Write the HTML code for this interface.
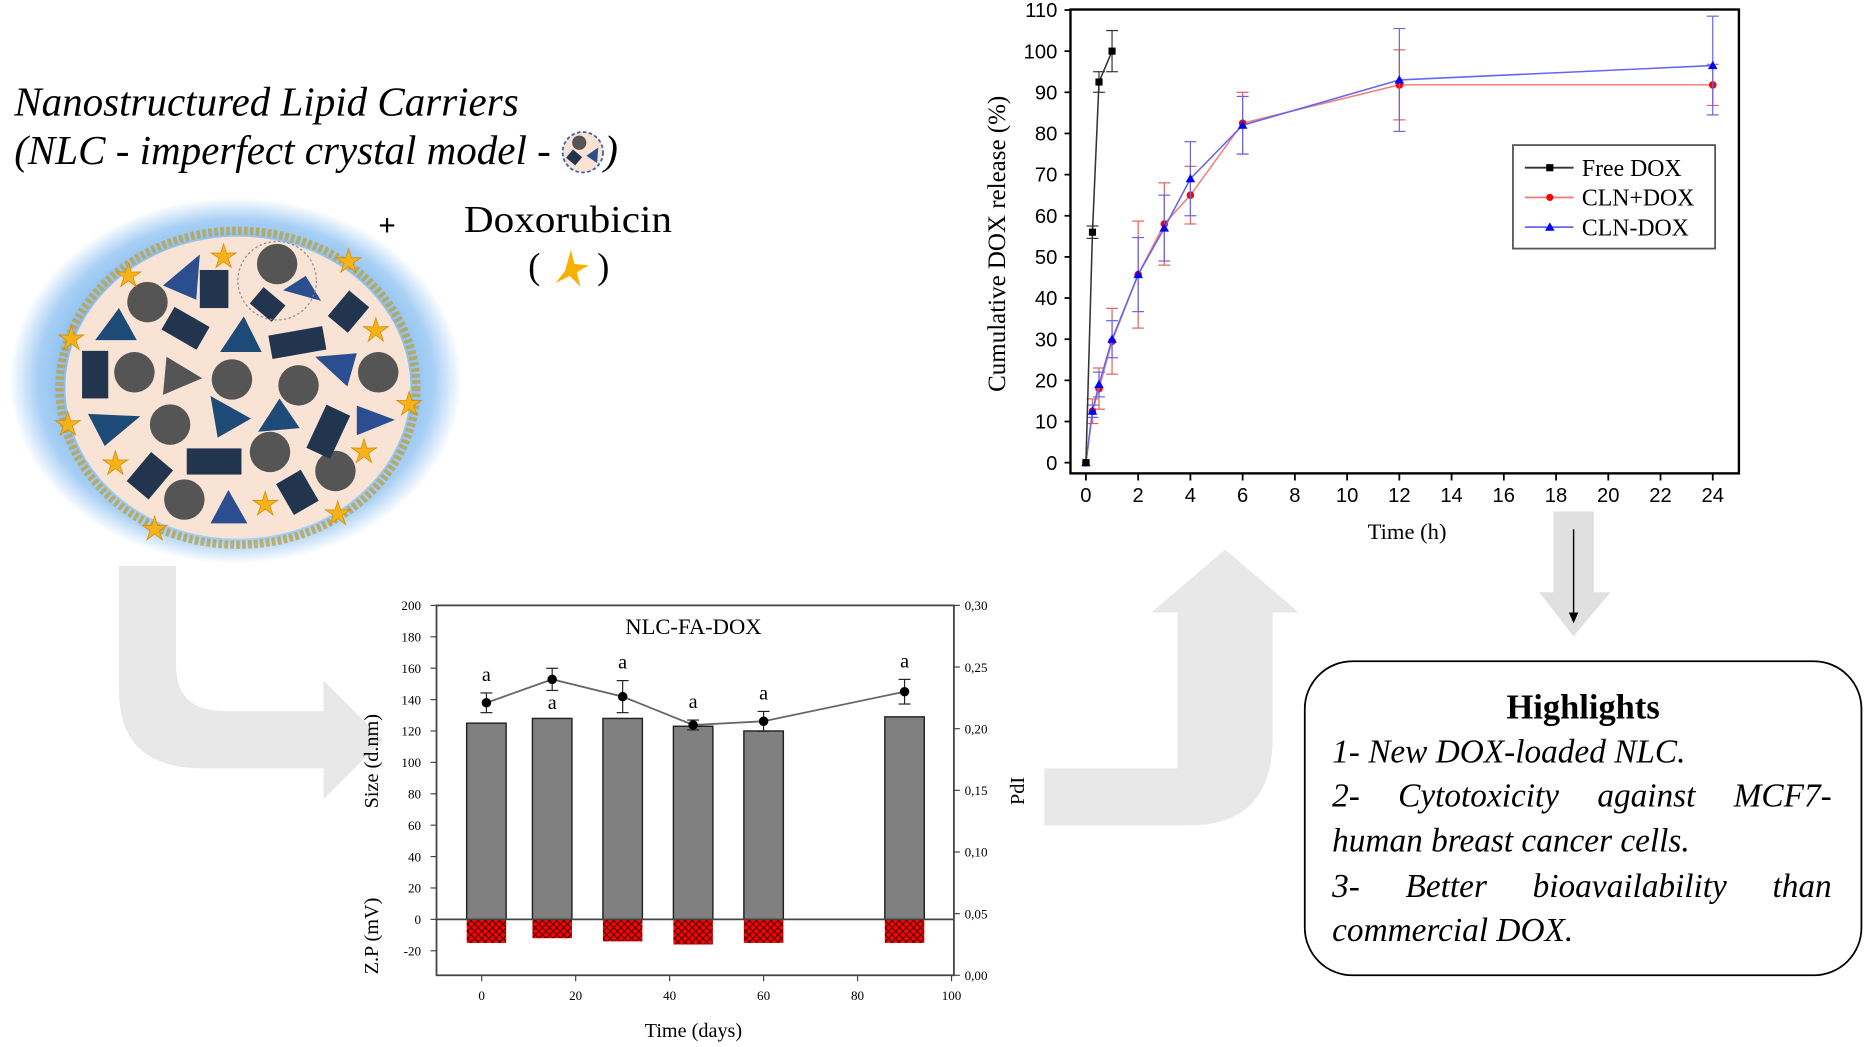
<!DOCTYPE html>
<html><head><meta charset="utf-8"><style>
html,body{margin:0;padding:0;background:#fff;}
svg{display:block;font-family:"Liberation Serif",serif;}
</style></head><body>
<svg width="1865" height="1047" viewBox="0 0 1568 880.3" preserveAspectRatio="none" xmlns="http://www.w3.org/2000/svg">
<defs>
<radialGradient id="glow" cx="50%" cy="50%" r="50%">
<stop offset="0.7" stop-color="#7fb7ee"/><stop offset="0.88" stop-color="#a9d0f5"/><stop offset="1" stop-color="#ffffff"/>
</radialGradient>
<pattern id="hatch" width="6" height="6" patternUnits="userSpaceOnUse">
<rect width="6" height="6" fill="#ff0000"/><path d="M0,0L6,6M6,0L0,6" stroke="#300" stroke-width="0.8"/>
</pattern>
</defs>

<path d="M100,476 H148 V560 Q148,598 190,598 H272 V572 L322,622 L272,672 V646 H170 Q100,646 100,580 Z" fill="#e8e8e8"/>
<path d="M878,646 H990 V515 H968 L1030,462 L1092,515 H1070 V620 Q1070,694 1000,694 H878 Z" fill="#e8e8e8"/>
<path d="M1306,430 H1340 V498 H1354 L1323,535 L1294,498 H1306 Z" fill="#e0e0e0"/>
<line x1="1323" y1="445" x2="1323" y2="520" stroke="#000" stroke-width="1.2"/>
<path d="M1319,515 L1323,524 L1327,515" fill="#000"/>

<text x="12" y="97" font-size="34.5" font-style="italic">Nanostructured Lipid Carriers</text>
<text x="12" y="138" font-size="34.5" font-style="italic">(NLC - imperfect crystal model -</text>
<g>
<circle cx="490" cy="128" r="17" fill="#f9e2d2" stroke="#3a62b0" stroke-width="1.5" stroke-dasharray="3,2"/>
<circle cx="487" cy="120" r="6" fill="#555"/><rect x="478" y="128" width="10" height="9" fill="#203350" transform="rotate(40 483 132)"/><path d="M493,131 L503,124 L502,137Z" fill="#2a4e8f"/>
</g>
<text x="508" y="138" font-size="34.5" font-style="italic">)</text>
<text x="318" y="198" font-size="26" font-weight="bold">+</text>
<text x="390" y="195" font-size="32" textLength="175" lengthAdjust="spacingAndGlyphs">Doxorubicin</text>
<text x="444" y="234" font-size="31">(</text><text x="502" y="234" font-size="31">)</text>
<path d="M480,210 L483,222 L495,223 L485,229 L488,241 L479,232 L467,238 L475,228 Z" fill="#f7b000"/>

<g>
<ellipse cx="198" cy="320" rx="190" ry="154" fill="url(#glow)"/>
<ellipse cx="200" cy="326" rx="150" ry="132" fill="none" stroke="#b8a24a" stroke-width="7" stroke-dasharray="3,2" opacity="0.8"/>
<ellipse cx="200" cy="326" rx="145" ry="127" fill="#f8e3d4"/>
<g id="shapes"></g>
</g>

<g id="topchart"></g>
<g id="botchart"></g>

<g>
<rect x="1097" y="556" width="468" height="264" rx="40" fill="#fff" stroke="#000" stroke-width="1.5"/>
<text x="1331" y="604" font-size="29" font-weight="bold" text-anchor="middle">Highlights</text>
<g font-size="28" font-style="italic">
<text x="1120" y="641">1- New DOX-loaded NLC.</text>
<text class="just" x="1120" y="678">2- Cytotoxicity against MCF7-</text>
<text x="1120" y="716">human breast cancer cells.</text>
<text class="just" x="1120" y="754">3- Better bioavailability than</text>
<text x="1120" y="791">commercial DOX.</text>
</g>
</g>
</svg>
<script>
const NS='http://www.w3.org/2000/svg';
function mk(tag,attrs,parent){const e=document.createElementNS(NS,tag);for(const k in attrs)e.setAttribute(k,attrs[k]);parent.appendChild(e);return e;}

document.querySelectorAll('text.just').forEach(t=>{const len=t.getComputedTextLength();const n=t.textContent.split(' ').length-1;t.setAttribute('word-spacing',((1540-1120-len)/n).toFixed(2));});

(function(){
const g=document.getElementById('shapes');
const circles=[[124,254],[233,222],[113,313],[195,319],[251,324],[143,357],[227,380],[282,396],[155,420],[318,313]];
circles.forEach(c=>mk('circle',{cx:c[0],cy:c[1],r:17,fill:'#555'},g));
const rects=[[180,243,24,32,0],[225,256,24,18,40],[293,262,22,28,40],[156,276,34,22,30],[250,288,46,20,-10],[80,315,22,40,0],[180,388,46,22,0],[126,400,24,32,40],[276,363,22,40,25],[250,414,24,30,-30]];
rects.forEach(r=>mk('rect',{x:r[0]-r[2]/2,y:r[1]-r[3]/2,width:r[2],height:r[3],fill:'#22354f',transform:`rotate(${r[4]} ${r[0]} ${r[1]})`},g));
const tris=[['M137,240 L168,214 L165,252Z','#2a4e8f'],['M257,232 L270,253 L238,244Z','#2a4e8f'],['M80,286 L100,259 L115,286Z','#1e4a78'],['M185,296 L205,266 L220,296Z','#1e4a78'],['M137,332 L140,300 L170,318Z','#555'],['M265,300 L300,297 L292,325Z','#2a4e8f'],['M74,348 L118,350 L88,375Z','#1e4a78'],['M177,333 L211,352 L183,368Z','#1e4a78'],['M217,363 L235,335 L252,360Z','#1e4a78'],['M300,341 L332,353 L300,366Z','#2a4e8f'],['M177,440 L192,412 L208,440Z','#2a4e8f']];
tris.forEach(t=>mk('path',{d:t[0],fill:t[1]},g));
mk('circle',{cx:233,cy:236,r:33,fill:'none',stroke:'#8a8a9a','stroke-dasharray':'2,2'},g);
const stars=[[108,232],[188,216],[293,220],[60,285],[316,278],[57,357],[97,390],[306,380],[344,340],[223,424],[284,432],[130,445]];
stars.forEach(s=>{const[x,y]=s;let d='';for(let i=0;i<10;i++){const r=i%2?4:11;const a=-Math.PI/2+i*Math.PI/5;d+=(i?'L':'M')+(x+r*Math.cos(a)).toFixed(1)+','+(y+r*Math.sin(a)).toFixed(1);}mk('path',{d:d+'Z',fill:'#f7b21a',stroke:'#d08a00','stroke-width':0.6},g);});
})();

const releaseTimes=[0,0.25,0.5,1,2,3,4,6,12,24];
const freeTimes=[0,0.25,0.5,1];
const freeDox=[0,56,92.5,100];
const freeDoxErr=[0,1.5,2.5,5];
const clnPlusDox=[0,12.5,18,29.5,45.7,58,65,82.5,91.8,91.8];
const clnPlusDoxErr=[0,3,5,8,13,10,7,7.5,8.5,5];
const clnDox=[0,12.5,19,30,45.7,57,69,82,93,96.5];
const clnDoxErr=[0,1.5,3,4.5,9,8,9,7,12.5,12];
const xTicksTop=[0,2,4,6,8,10,12,14,16,18,20,22,24];
const yTicksTop=[0,10,20,30,40,50,60,70,80,90,100,110];

(function(){
const g=document.getElementById('topchart');
const X=t=>913+t*(1440-913)/24, Y=v=>389-v*(389-8.4)/110;
mk('rect',{x:900,y:8,width:562,height:390,fill:'#fff',stroke:'#000','stroke-width':2},g);
yTicksTop.forEach(v=>{mk('line',{x1:895,x2:900,y1:Y(v),y2:Y(v),stroke:'#000','stroke-width':1.5},g);
const t=mk('text',{x:889,y:Y(v)+6,'font-size':17,'text-anchor':'end','font-family':'Liberation Sans, sans-serif'},g);t.textContent=v;});
xTicksTop.forEach(v=>{mk('line',{x1:X(v),x2:X(v),y1:398,y2:404,stroke:'#000','stroke-width':1.5},g);
const t=mk('text',{x:X(v),y:422,'font-size':17,'text-anchor':'middle','font-family':'Liberation Sans, sans-serif'},g);t.textContent=v;});
const xt=mk('text',{x:1183,y:453,'font-size':19,'text-anchor':'middle'},g);xt.textContent='Time (h)';

const yt=mk('text',{x:0,y:0,'font-size':21,'text-anchor':'middle',transform:'translate(845,205) rotate(-90)'},g);yt.textContent='Cumulative  DOX release (%)';

function series(xs,vals,errs,color,ecolor,marker,name){
const sg=mk('g',{},g);
vals.forEach((v,i)=>{const x=X(xs[i]);if(errs[i]>0){mk('line',{x1:x,x2:x,y1:Y(v-errs[i]),y2:Y(v+errs[i]),stroke:ecolor,'stroke-width':1},sg);
[v-errs[i],v+errs[i]].forEach(e=>mk('line',{x1:x-5,x2:x+5,y1:Y(e),y2:Y(e),stroke:ecolor,'stroke-width':1},sg));}});
mk('polyline',{points:vals.map((v,i)=>X(xs[i])+','+Y(v)).join(' '),fill:'none',stroke:color,'stroke-width':1.3},sg);
vals.forEach((v,i)=>{const x=X(xs[i]),y=Y(v);let m;
if(marker==='s')m=mk('rect',{x:x-3,y:y-3,width:6,height:6,fill:'#000'},sg);
else if(marker==='c')m=mk('circle',{cx:x,cy:y,r:3.2,fill:'#f00'},sg);
else m=mk('path',{d:`M${x},${y-4} L${x+4},${y+3} L${x-4},${y+3}Z`,fill:'#00f'},sg);
});}
series(releaseTimes,clnPlusDox,clnPlusDoxErr,'#f08080','#e06060','c','series-cln-plus-dox');
series(releaseTimes,clnDox,clnDoxErr,'#6666ee','#6666dd','t','series-cln-dox');
series(freeTimes,freeDox,freeDoxErr,'#333','#333','s','series-free-dox');
const lg=mk('g',{},g);
mk('rect',{x:1272,y:122,width:170,height:87,fill:'#fff',stroke:'#555','stroke-width':1.5},lg);
[['Free DOX','#333','s',141],['CLN+DOX','#f08080','c',166],['CLN-DOX','#6666ee','t',191]].forEach(e=>{
const eg=mk('g',{},lg);
mk('line',{x1:1282,x2:1323,y1:e[3],y2:e[3],stroke:e[1],'stroke-width':1.5},eg);
if(e[2]==='s')mk('rect',{x:1300,y:e[3]-3,width:6,height:6,fill:'#000'},eg);else if(e[2]==='c')mk('circle',{cx:1303,cy:e[3],r:3,fill:'#f00'},eg);else mk('path',{d:`M1303,${e[3]-4} L1307,${e[3]+3} L1299,${e[3]+3}Z`,fill:'#00f'},eg);
const t=mk('text',{x:1330,y:e[3]+7,'font-size':20},eg);t.textContent=e[0];});
})();

const stabDays=[1,15,30,45,60,90];
const sizeNm=[125,128,128,123,120,129];
const zetaMv=[-15,-12,-14,-16,-15,-15];
const pdiVals=[0.221,0.240,0.226,0.203,0.206,0.230];
const pdiErr=[0.008,0.009,0.013,0.004,0.008,0.010];
const sigLetters=['a','a','a','a','a','a'];
const xTicksBot=[0,20,40,60,80,100];
const yTicksBot=[-20,0,20,40,60,80,100,120,140,160,180,200];
const yTicksRight=['0,00','0,05','0,10','0,15','0,20','0,25','0,30'];
const yTicksRightVal=[0,0.05,0.10,0.15,0.20,0.25,0.30];

(function(){
const g=document.getElementById('botchart');
const X=d=>405+d*(800-405)/100, Y=v=>773-v*(773-509)/200, YR=p=>820-p*(820-509)/0.30;
mk('rect',{x:367,y:509,width:435,height:311,fill:'#fff',stroke:'#444','stroke-width':1.5},g);
yTicksBot.forEach(v=>{mk('line',{x1:362,x2:367,y1:Y(v),y2:Y(v),stroke:'#444'},g);
const t=mk('text',{x:354,y:Y(v)+4,'font-size':11,'text-anchor':'end'},g);t.textContent=v;});
yTicksRightVal.forEach((v,i)=>{mk('line',{x1:802,x2:807,y1:YR(v),y2:YR(v),stroke:'#444'},g);
const t=mk('text',{x:811,y:YR(v)+4,'font-size':11},g);t.textContent=yTicksRight[i];});
xTicksBot.forEach(v=>{mk('line',{x1:X(v),x2:X(v),y1:820,y2:825,stroke:'#444'},g);
const t=mk('text',{x:X(v),y:841,'font-size':11,'text-anchor':'middle'},g);t.textContent=v;});
const bw=8.4;
stabDays.forEach((d,i)=>{const x0=X(d-bw/2),x1=X(d+bw/2);
const b=mk('rect',{x:x0,y:Y(sizeNm[i]),width:x1-x0,height:Y(0)-Y(sizeNm[i]),fill:'#808080',stroke:'#222','stroke-width':1.2},g);

const z=mk('rect',{x:x0,y:Y(0),width:x1-x0,height:Y(zetaMv[i])-Y(0),fill:'url(#hatch)'},g);
});
mk('line',{x1:367,x2:802,y1:Y(0),y2:Y(0),stroke:'#444','stroke-width':1.5},g);
mk('polyline',{points:stabDays.map((d,i)=>X(d)+','+YR(pdiVals[i])).join(' '),fill:'none',stroke:'#666','stroke-width':1.5},g);
stabDays.forEach((d,i)=>{const x=X(d);
mk('line',{x1:x,x2:x,y1:YR(pdiVals[i]-pdiErr[i]),y2:YR(pdiVals[i]+pdiErr[i]),stroke:'#222'},g);
[pdiVals[i]-pdiErr[i],pdiVals[i]+pdiErr[i]].forEach(e=>mk('line',{x1:x-5,x2:x+5,y1:YR(e),y2:YR(e),stroke:'#222'},g));
const p=mk('circle',{cx:x,cy:YR(pdiVals[i]),r:4,fill:'#000'},g);

const above=(i===1)?Y(sizeNm[i])-8:YR(pdiVals[i]+pdiErr[i])-10;
const t=mk('text',{x:x,y:above,'font-size':17,'text-anchor':'middle'},g);t.textContent=sigLetters[i];
});
const tt=mk('text',{x:583,y:533,'font-size':19,'text-anchor':'middle'},g);tt.textContent='NLC-FA-DOX';

const xt=mk('text',{x:583,y:872,'font-size':17,'text-anchor':'middle'},g);xt.textContent='Time (days)';

const y1=mk('text',{x:0,y:0,'font-size':17,'text-anchor':'middle',transform:'translate(318,640) rotate(-90)'},g);y1.textContent='Size (d.nm)';

const y2=mk('text',{x:0,y:0,'font-size':17,'text-anchor':'middle',transform:'translate(318,787) rotate(-90)'},g);y2.textContent='Z.P (mV)';

const y3=mk('text',{x:0,y:0,'font-size':17,'text-anchor':'middle',transform:'translate(861,665) rotate(-90)'},g);y3.textContent='PdI';

})();
</script>
</body></html>
